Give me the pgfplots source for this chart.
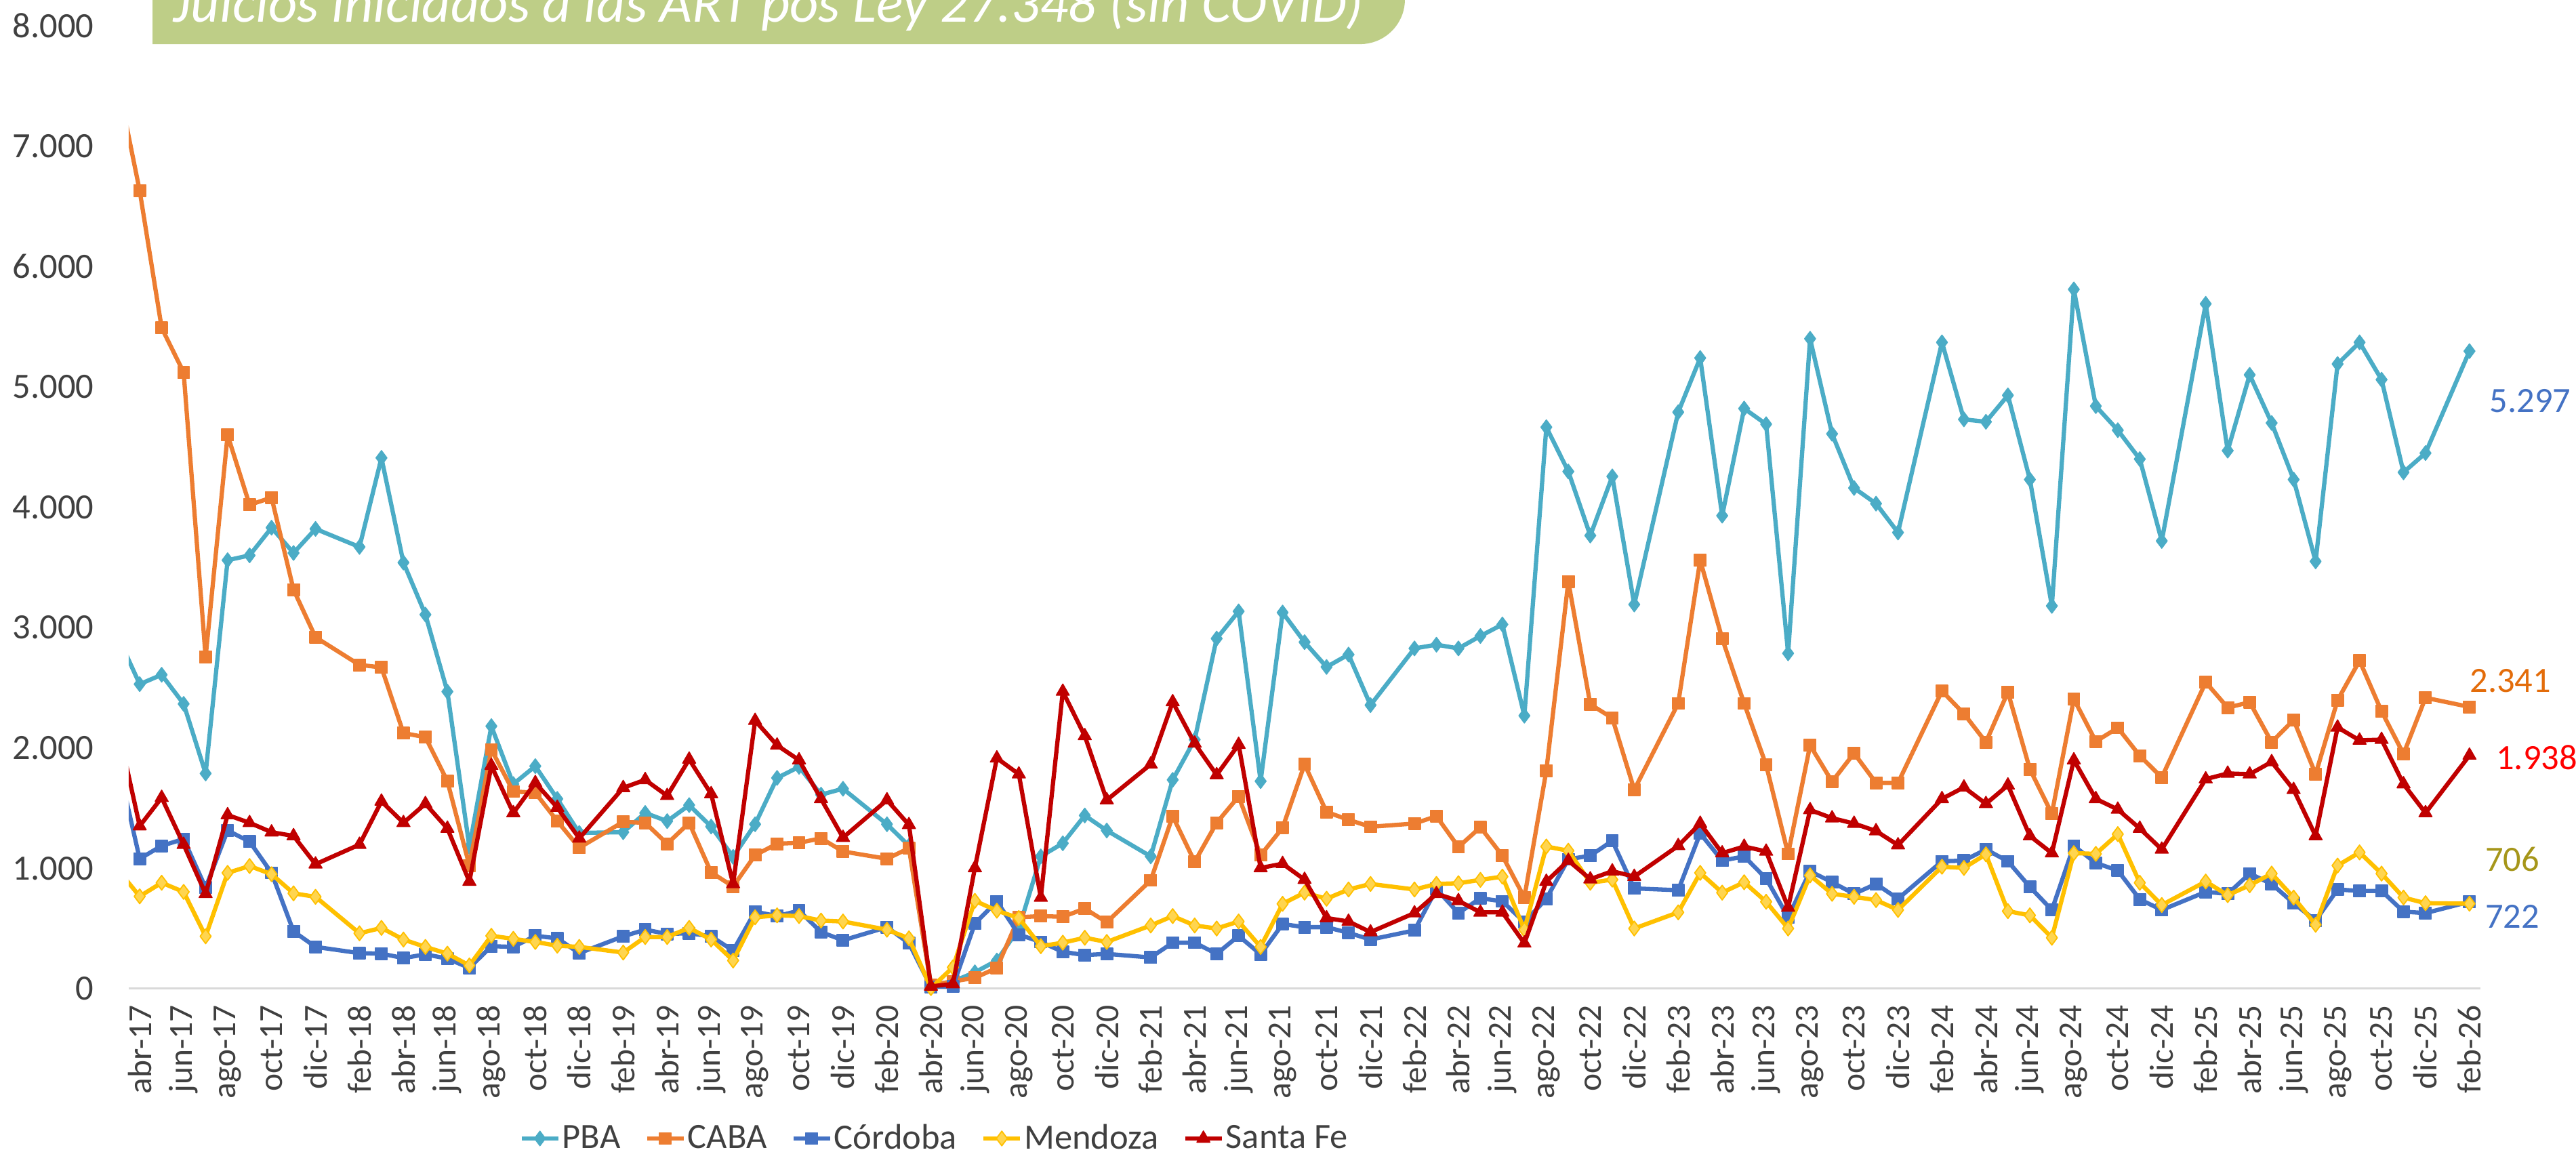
\documentclass[border=0pt]{standalone}
\usepackage{fontspec}
\setmainfont{Carlito}
\usepackage{pgfplots}
\pgfplotsset{compat=1.18}
\usepackage{pgfplotstable}
\definecolor{cPBA}{HTML}{4BACC6}
\definecolor{cCABA}{HTML}{ED7D31}
\definecolor{cCOR}{HTML}{4472C4}
\definecolor{cMEN}{HTML}{FFC000}
\definecolor{cMENf}{HTML}{FFD54F}
\definecolor{cSF}{HTML}{C00000}
\definecolor{txt}{HTML}{404040}
\definecolor{axgray}{HTML}{D9D9D9}
\definecolor{titlegreen}{HTML}{BECE87}
\definecolor{lblCABA}{HTML}{E36C0A}
\definecolor{lblSF}{HTML}{FF0000}
\definecolor{lblMEN}{HTML}{A6961A}

% month index: 0 = abr-17 ; January months are absent
\pgfplotstableread{
i PBA CABA COR MEN SF
-1 2930 7530 1880 990 2180
0 2530 6630 1079 767 1351
1 2608 5490 1187 880 1587
2 2366 5120 1243 804 1197
3 1788 2756 839 435 788
4 3560 4600 1314 962 1443
5 3600 4020 1222 1019 1378
6 3830 4080 962 951 1300
7 3620 3315 476 792 1269
8 3820 2920 347 763 1034
10 3670 2690 295 460 1197
11 4410 2669 291 505 1556
12 3540 2124 254 408 1378
13 3108 2089 285 347 1536
14 2468 1724 250 291 1331
15 1177 1023 172 193 890
16 2181 1987 353 439 1853
17 1700 1638 347 414 1460
18 1849 1628 439 388 1710
19 1577 1392 418 357 1505
20 1294 1171 295 347 1249
22 1300 1386 435 300 1669
23 1460 1378 490 429 1735
24 1392 1204 455 429 1603
25 1525 1378 460 505 1905
26 1347 966 435 408 1618
27 1095 849 316 234 870
28 1366 1109 640 593 2227
29 1751 1204 603 609 2022
30 1843 1212 648 603 1899
31 1612 1249 470 566 1577
32 1661 1140 402 558 1255
34 1366 1079 511 490 1567
35 1187 1167 377 418 1361
36 30 30 15 5 19
37 60 60 19 177 39
38 136 90 541 730 1003
39 234 172 726 648 1915
40 500 593 449 587 1782
41 1099 603 388 353 757
42 1208 597 306 382 2469
43 1439 665 279 423 2100
44 1314 552 289 388 1567
46 1099 900 259 525 1864
47 1735 1433 382 603 2382
48 2069 1054 382 525 2038
49 2909 1378 289 500 1776
50 3135 1597 439 558 2028
51 1724 1109 285 347 1003
52 3125 1337 537 705 1038
53 2879 1864 511 798 906
54 2673 1468 511 747 587
55 2776 1403 464 824 558
56 2356 1345 408 870 470
58 2827 1372 484 824 628
59 2858 1433 828 870 788
60 2827 1177 628 876 730
61 2930 1341 751 904 634
62 3026 1105 726 931 634
63 2268 757 552 490 377
64 4665 1812 747 1181 890
65 4297 3383 1075 1146 1064
66 3765 2362 1105 880 910
67 4256 2249 1228 906 976
68 3192 1653 833 500 931
70 4790 2370 818 634 1187
71 5240 3560 1290 962 1372
72 3930 2909 1064 798 1126
73 4820 2370 1099 884 1181
74 4690 1858 915 722 1140
75 2786 1120 593 500 675
76 5400 2022 976 941 1485
77 4610 1720 884 788 1417
78 4160 1956 788 763 1372
79 4030 1710 870 736 1310
80 3790 1710 747 654 1193
82 5370 2473 1058 1013 1577
83 4730 2284 1064 1003 1673
84 4710 2048 1157 1116 1536
85 4930 2464 1058 644 1690
86 4230 1823 845 609 1269
87 3180 1454 654 423 1126
88 5810 2407 1187 1126 1899
89 4840 2054 1044 1120 1577
90 4640 2167 982 1284 1489
91 4400 1935 742 880 1331
92 3720 1755 654 695 1157
94 5690 2546 804 890 1741
95 4470 2335 788 777 1788
96 5100 2380 956 859 1782
97 4700 2048 870 956 1884
98 4230 2233 710 757 1653
99 3550 1782 566 531 1269
100 5190 2397 824 1023 2171
101 5370 2725 812 1132 2063
102 5060 2305 812 956 2069
103 4290 1950 640 757 1700
104 4450 2417 628 710 1460
106 5297 2341 722 706 1938
}\datatable

\begin{document}
\begin{tikzpicture}
\useasboundingbox (0,0) rectangle (1267pt,575pt);
\begin{axis}[
  at={(63.3pt,88.7pt)}, anchor=south west,
  scale only axis, width=1156.7pt, height=473.6pt,
  xmin=-0.5, xmax=106.5, ymin=0, ymax=8000,
  clip mode=individual,
  axis lines*=left,
  x axis line style={draw=axgray, line width=1pt},
  y axis line style={draw=none},
  ytick={0,1000,...,8000},
  scaled y ticks=false,
  /pgf/number format/1000 sep={.},
  /pgf/number format/assume math mode=true,
  ytick style={draw=none},
  yticklabel style={font=\fontsize{17.5}{21}\selectfont, text=txt, anchor=east, inner sep=0pt},
  yticklabel shift=17pt,
  xtick={0,2,...,106},
  xticklabels={abr-17,jun-17,ago-17,oct-17,dic-17,
    feb-18,abr-18,jun-18,ago-18,oct-18,dic-18,
    feb-19,abr-19,jun-19,ago-19,oct-19,dic-19,
    feb-20,abr-20,jun-20,ago-20,oct-20,dic-20,
    feb-21,abr-21,jun-21,ago-21,oct-21,dic-21,
    feb-22,abr-22,jun-22,ago-22,oct-22,dic-22,
    feb-23,abr-23,jun-23,ago-23,oct-23,dic-23,
    feb-24,abr-24,jun-24,ago-24,oct-24,dic-24,
    feb-25,abr-25,jun-25,ago-25,oct-25,dic-25,
    feb-26},
  xtick style={draw=none},
  xticklabel style={font=\fontsize{16.5}{19}\selectfont, text=txt, rotate=90, anchor=east, inner sep=0pt},
  xticklabel shift=8pt,
  extra x ticks={-0.5,1.5,...,105.5},
  extra x tick labels={},
  extra x tick style={tick align=outside, major tick length=6pt,
     tick style={draw=axgray, line width=0.8pt}},
  legend style={at={(0.3427,-0.1556)}, anchor=center, draw=none, fill=none,
    legend columns=5, font=\fontsize{17.5}{21}\selectfont, text=txt,
    /tikz/every even column/.append style={column sep=11pt},
    nodes={inner sep=1pt}},
  legend image code/.code={\draw[mark repeat=2,mark phase=2,#1] plot coordinates {(0pt,0pt) (9pt,0pt) (18pt,0pt)};},
  every axis plot/.append style={line width=2.1pt, line join=round},
]
\addplot[cPBA, mark=diamond*, mark size=3.6pt, mark options={fill=cPBA, line width=0.5pt}] table[x=i,y=PBA]{\datatable};
\addlegendentry{PBA}
\addplot[cCABA, mark=square*, mark size=2.9pt, mark options={fill=cCABA, line width=0.5pt}] table[x=i,y=CABA]{\datatable};
\addlegendentry{CABA}
\addplot[cCOR, mark=square*, mark size=2.9pt, mark options={fill=cCOR, line width=0.5pt}] table[x=i,y=COR]{\datatable};
\addlegendentry{Córdoba}
\addplot[cMEN, mark=diamond*, mark size=3.6pt, mark options={fill=cMENf, draw=cMEN, line width=0.6pt}] table[x=i,y=MEN]{\datatable};
\addlegendentry{Mendoza}
\addplot[cSF, mark=triangle*, mark size=3.7pt, mark options={fill=cSF, line width=0.5pt}] table[x=i,y=SF]{\datatable};
\addlegendentry{Santa Fe}

\node[anchor=west, inner sep=0pt, text=cCOR, font=\fontsize{17.5}{21}\selectfont] at (axis cs:106.9,4885) {5.297};
\node[anchor=west, inner sep=0pt, text=lblCABA, font=\fontsize{17.5}{21}\selectfont] at (axis cs:106.0,2555) {2.341};
\node[anchor=west, inner sep=0pt, text=lblSF, font=\fontsize{17.5}{21}\selectfont] at (axis cs:107.2,1919) {1.938};
\node[anchor=west, inner sep=0pt, text=lblMEN, font=\fontsize{17.5}{21}\selectfont] at (axis cs:106.7,1075) {706};
\node[anchor=west, inner sep=0pt, text=cCOR, font=\fontsize{17.5}{21}\selectfont] at (axis cs:106.7,597) {722};
\end{axis}
\fill[titlegreen] (75pt,553.3pt) -- (75pt,620pt) -- (691pt,620pt) -- (691pt,575.3pt) arc[start angle=0,end angle=-90,radius=22pt] -- cycle;
\node[anchor=base west, inner sep=0pt, text=white, font=\itshape\fontsize{27.5}{32}\selectfont] at (85pt,564pt) {Juicios iniciados a las ART pos Ley 27.348 (sin COVID)};
\end{tikzpicture}
\end{document}
